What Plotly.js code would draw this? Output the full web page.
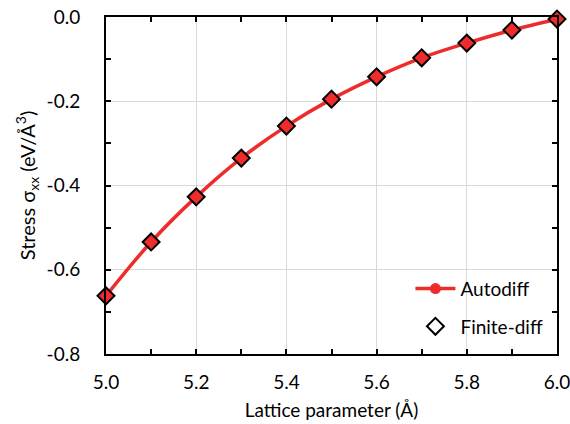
<!DOCTYPE html>
<html><head><meta charset="utf-8">
<script src="https://cdn.plot.ly/plotly-3.0.1.min.js"></script>
<style>html,body{margin:0;padding:0;background:#fff}</style>
</head><body>
<div id="chart" style="width:570px;height:424px"></div>
<script>
const latticeParam = [5.0, 5.1, 5.2, 5.3, 5.4, 5.5, 5.6, 5.7, 5.8, 5.9, 6.0];
const stressAutodiff = [-0.662, -0.534, -0.427, -0.335, -0.259, -0.195, -0.142, -0.097, -0.062, -0.031, -0.005];
const stressFiniteDiff = [-0.662, -0.534, -0.427, -0.335, -0.259, -0.195, -0.142, -0.097, -0.062, -0.031, -0.005];
const xTickVals = [5.0, 5.2, 5.4, 5.6, 5.8, 6.0];
const xTickText = ['5.0', '5.2', '5.4', '5.6', '5.8', '6.0'];
const yTickVals = [0.0, -0.2, -0.4, -0.6, -0.8];
const yTickText = ['0.0', '-0.2', '-0.4', '-0.6', '-0.8'];

const FONT = 'Lato, "Open Sans", sans-serif';
const FS = 19;
const traces = [
  {x: latticeParam, y: stressAutodiff, name: 'Autodiff', mode: 'lines+markers',
   line: {color: '#ee2c2c', width: 3.5, shape: 'spline'},
   marker: {symbol: 'circle', color: '#ee2c2c', size: 11},
   legendgroup: 'a', cliponaxis: false},
  {x: latticeParam, y: stressFiniteDiff, mode: 'markers', showlegend: false,
   marker: {symbol: 'diamond', color: '#ee2c2c', size: 13, line: {width: 0}},
   cliponaxis: false, hoverinfo: 'skip'},
  {x: latticeParam, y: stressFiniteDiff, name: 'Finite-diff', mode: 'markers',
   marker: {symbol: 'diamond', color: 'rgba(0,0,0,0)', size: 13, line: {color: '#000', width: 2}},
   legendgroup: 'b', cliponaxis: false}
];
const axisCommon = {
  showline: true, linecolor: '#000', linewidth: 2, mirror: 'allticks',
  ticks: 'inside', ticklen: 5, tickwidth: 2, tickcolor: '#000',
  showgrid: true, gridcolor: '#d9d9d9', gridwidth: 1, zeroline: false,
  ticklabeloverflow: 'allow',
  tickfont: {family: FONT, size: FS, color: '#000'},
  minor: {ticks: 'inside', ticklen: 5, tickwidth: 2, tickcolor: '#000', dtick: 0.1, showgrid: false}
};
const layout = {
  width: 570, height: 424,
  margin: {l: 106, r: 13, t: 17, b: 70},
  paper_bgcolor: '#fff', plot_bgcolor: '#fff',
  font: {family: FONT, size: FS, color: '#000'},
  xaxis: Object.assign({}, axisCommon, {
    range: [5.0, 6.0], tickmode: 'array', tickvals: xTickVals, ticktext: xTickText,
    ticklabelstandoff: 10,
    title: {text: 'Lattice parameter (Å)', font: {family: FONT, size: FS, color: '#000'}, standoff: 12}
  }),
  yaxis: Object.assign({}, axisCommon, {
    range: [-0.8, 0.0], tickmode: 'array', tickvals: yTickVals, ticktext: yTickText,
    ticklabelstandoff: 20,
    title: {text: 'Stress σ<sub>xx</sub> (eV/Å<sup>3</sup>)', font: {family: FONT, size: 20, color: '#000'}, standoff: 6}
  }),
  showlegend: true,
  legend: {x: 0.675, y: 0.25, xanchor: 'left', yanchor: 'top', bgcolor: 'rgba(0,0,0,0)',
    font: {family: FONT, size: FS, color: '#000'}, traceorder: 'grouped', tracegroupgap: 10,
    itemwidth: 40}
};
Plotly.newPlot('chart', traces, layout, {displayModeBar: false, staticPlot: true});
</script>
</body></html>
